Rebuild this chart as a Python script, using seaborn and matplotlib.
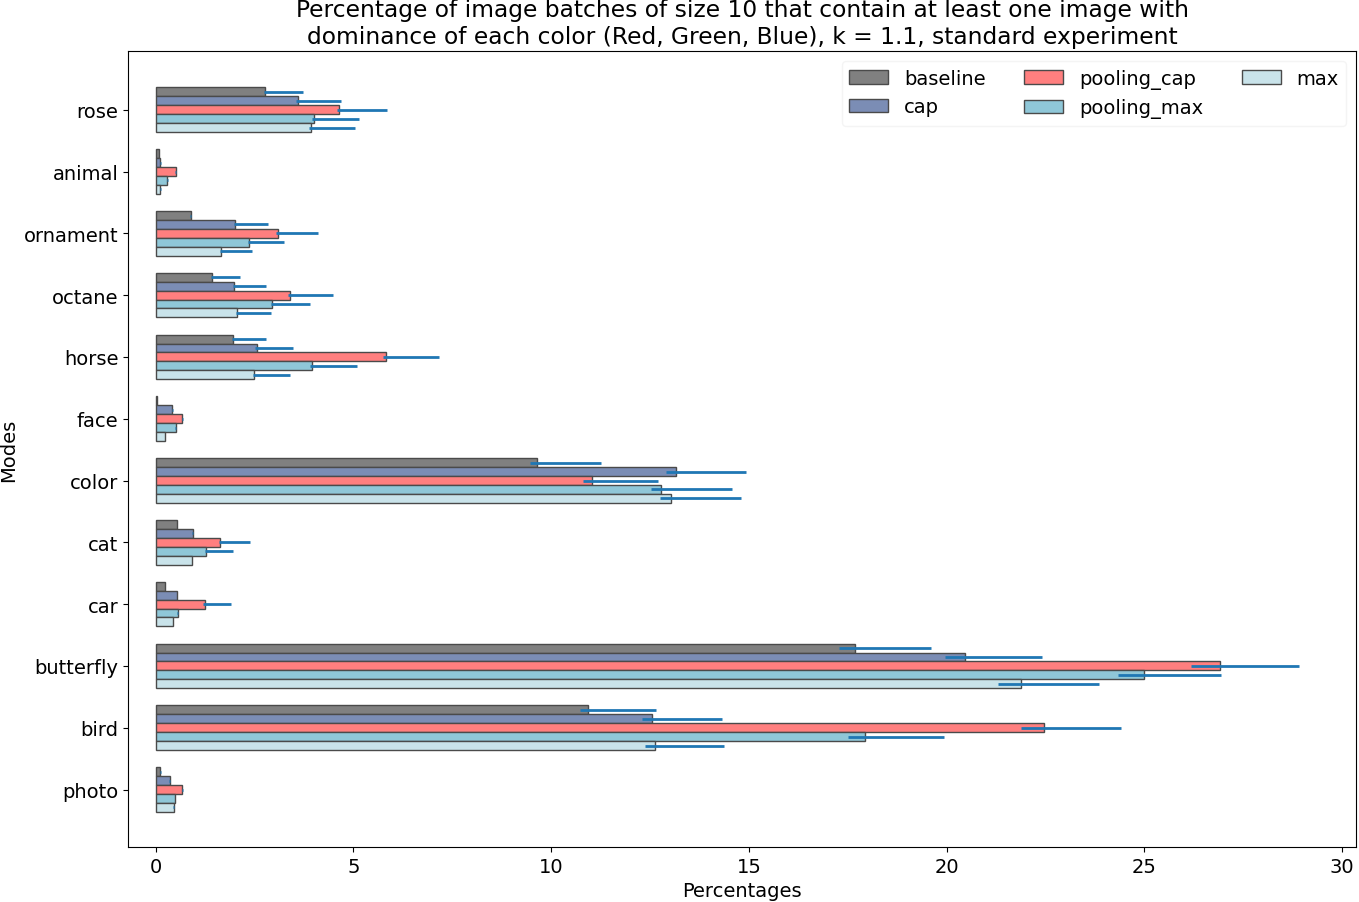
import numpy as np
import pandas as pd
import matplotlib
matplotlib.use("Agg")
import matplotlib.pyplot as plt
import seaborn as sns

# Modes (top to bottom)
categories = ["rose", "animal", "ornament", "octane", "horse", "face",
              "color", "cat", "car", "butterfly", "bird", "photo"]
series_names = ["baseline", "cap", "pooling_cap", "pooling_max", "max"]

# Bar values (percentages)
baseline = [2.76, 0.09, 0.89, 1.42, 1.96, 0.03, 9.65, 0.54, 0.24, 17.68, 10.94, 0.12]
cap = [3.60, 0.12, 2.01, 1.98, 2.55, 0.42, 13.16, 0.94, 0.54, 20.46, 12.55, 0.35]
pooling_cap = [4.64, 0.51, 3.09, 3.40, 5.83, 0.67, 11.03, 1.63, 1.25, 26.91, 22.46, 0.67]
pooling_max = [4.00, 0.29, 2.36, 2.94, 3.95, 0.51, 12.78, 1.27, 0.56, 24.99, 17.93, 0.49]
max_ = [3.93, 0.12, 1.65, 2.06, 2.49, 0.24, 13.03, 0.92, 0.44, 21.88, 12.63, 0.46]

# Error line bounds (lower, upper)
baseline_lo = [2.74, 0.09, 0.87, 1.41, 1.92, 0.03, 9.46, 0.53, 0.24, 17.27, 10.72, 0.11]
baseline_hi = [3.72, 0.09, 0.90, 2.12, 2.78, 0.03, 11.25, 0.55, 0.24, 19.60, 12.64, 0.13]
cap_lo = [3.55, 0.11, 1.98, 1.95, 2.50, 0.41, 12.90, 0.93, 0.53, 19.95, 12.29, 0.34]
cap_hi = [4.68, 0.13, 2.83, 2.80, 3.46, 0.43, 14.92, 0.95, 0.55, 22.40, 14.31, 0.36]
pooling_cap_lo = [4.58, 0.50, 3.04, 3.34, 5.75, 0.66, 10.80, 1.60, 1.20, 26.17, 21.87, 0.66]
pooling_cap_hi = [5.84, 0.52, 4.10, 4.48, 7.16, 0.68, 12.69, 2.38, 1.90, 28.90, 24.40, 0.68]
pooling_max_lo = [3.95, 0.28, 2.33, 2.91, 3.89, 0.50, 12.52, 1.25, 0.55, 24.32, 17.50, 0.48]
pooling_max_hi = [5.13, 0.30, 3.24, 3.89, 5.08, 0.52, 14.56, 1.95, 0.57, 26.93, 19.92, 0.50]
max_lo = [3.87, 0.11, 1.63, 2.02, 2.45, 0.24, 12.74, 0.91, 0.44, 21.31, 12.36, 0.45]
max_hi = [5.03, 0.13, 2.43, 2.91, 3.39, 0.24, 14.79, 0.93, 0.44, 23.84, 14.36, 0.47]

values = [baseline, cap, pooling_cap, pooling_max, max_]
lows = [baseline_lo, cap_lo, pooling_cap_lo, pooling_max_lo, max_lo]
highs = [baseline_hi, cap_hi, pooling_cap_hi, pooling_max_hi, max_hi]

colors = ["#808080", "#7b8db5", "#ff7f7f", "#8fc7d8", "#c9e3ea"]

# Long format table for seaborn
rows = []
for name, vals in zip(series_names, values):
    for cat, v in zip(categories, vals):
        rows.append({"mode": cat, "series": name, "value": v})
df = pd.DataFrame(rows)

fig = plt.figure(figsize=(13.59, 9.03), dpi=100)
ax = fig.add_axes([0.0942, 0.0609, 0.9036, 0.8815])

sns.barplot(data=df, x="value", y="mode", hue="series", orient="h",
            order=categories, hue_order=series_names, palette=colors,
            saturation=1, width=0.72, errorbar=None,
            edgecolor="#4a4a4a", linewidth=1, ax=ax)

# Error lines drawn at each bar's centre
for cont, lo, hi in zip(ax.containers, lows, highs):
    for patch, l, h in zip(cont.patches, lo, hi):
        yc = patch.get_y() + patch.get_height() / 2
        ax.hlines(yc, l, h, color="#1f77b4", linewidth=2)

ax.set_xlim(-0.7, 30.35)
ax.set_ylim(11.93, -0.95)
ax.set_xlabel("Percentages", fontsize=14)
ax.set_ylabel("Modes", fontsize=14)
ax.tick_params(labelsize=14)
ax.set_title("Percentage of image batches of size 10 that contain at least one image with\n"
             "dominance of each color (Red, Green, Blue), k = 1.1, standard experiment",
             fontsize=16.8)
ax.legend(ncol=3, loc="upper right", fontsize=14, title=None,
          edgecolor="#f2f2f2")

fig.savefig("out.png", dpi=100)
